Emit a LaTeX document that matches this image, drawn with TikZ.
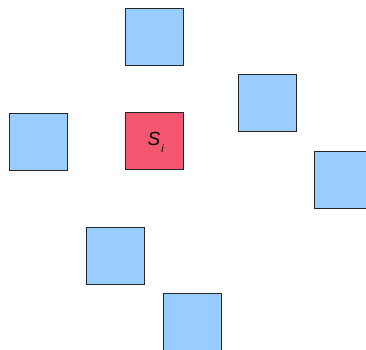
\documentclass[tikz,border=0pt]{standalone}
\usepackage{fontspec}
\setmainfont{Liberation Sans}
\definecolor{cellblue}{HTML}{99CCFF}
\definecolor{cellred}{HTML}{F2576F}
\begin{document}
\begin{tikzpicture}[x=1pt,y=-1pt,
  cell/.style={draw=black!85,line width=0.9pt,fill=cellblue,minimum width=58pt,minimum height=57pt,inner sep=0pt,outer sep=0pt},
  center/.style={cell,fill=cellred}]
\useasboundingbox (0,0) rectangle (366,349);
\clip (0,0) rectangle (366,349);
\node[cell] (top) at (154,36.5) {};
\node[cell] (upright) at (267,102.5) {};
\node[cell] (left) at (38,141.5) {};
\node[center] (si) at (154.5,140.5) {};
\node[font=\fontsize{19}{22}\selectfont\itshape,inner sep=0pt] (slabel) at (154,138.5) {S};
\node[font=\fontsize{11}{13}\selectfont\itshape,inner sep=0pt] (sub) at (162.5,149) {i};
\node[cell] (right) at (343,179.5) {};
\node[cell] (botleft) at (115,255.5) {};
\node[cell] (bottom) at (192,321.5) {};
\end{tikzpicture}
\end{document}
